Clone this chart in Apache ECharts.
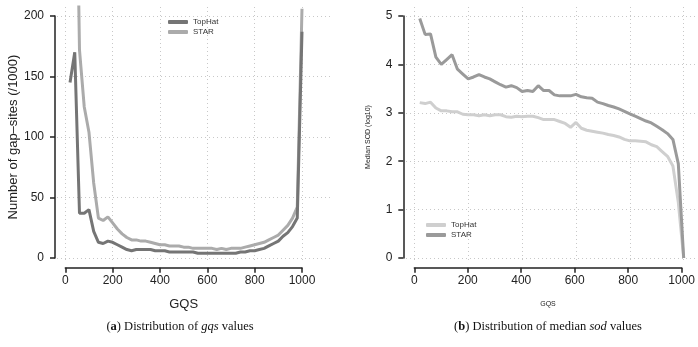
<!DOCTYPE html>
<html>
<head>
<meta charset="utf-8">
<script src="https://cdn.jsdelivr.net/npm/echarts@6/dist/echarts.min.js"></script>
<style>
  html, body { margin: 0; padding: 0; background: #fff; }
  #chart { width: 698px; height: 347px; }
</style>
</head>
<body>
<div id="chart"></div>
<script>
// gqs bins (x axis of both panels)
const gqsBins = [20, 40, 60, 80, 100, 120, 140, 160, 180, 200, 220, 240, 260, 280, 300, 320, 340, 360, 380, 400,
  420, 440, 460, 480, 500, 520, 540, 560, 580, 600, 620, 640, 660, 680, 700, 720, 740, 760, 780, 800,
  820, 840, 860, 880, 900, 920, 940, 960, 980, 1000];

// (a) number of gap-sites (/1000)
const gapTopHat = [145, 170, 37, 37, 40, 22, 13, 12, 14, 13, 11, 9, 7, 6, 7, 7, 7, 7, 6, 6,
  6, 5, 5, 5, 5, 5, 5, 4, 4, 4, 4, 4, 4, 4, 4, 4, 5, 5, 6, 6,
  7, 8, 10, 12, 14, 18, 21, 26, 33, 187];
const gapStar = [300, 420, 172, 125, 104, 62, 33, 31, 34, 29, 24, 20, 17, 15, 15, 14, 14, 13, 12, 11,
  11, 10, 10, 10, 9, 9, 8, 8, 8, 8, 8, 7, 8, 7, 8, 8, 8, 9, 10, 11,
  12, 13, 15, 17, 19, 23, 27, 33, 42, 206];

// (b) median sod (log10)
const sodTopHat = [3.21, 3.19, 3.22, 3.1, 3.04, 3.04, 3.02, 3.02, 2.97, 2.96, 2.96, 2.94, 2.96, 2.94, 2.96, 2.96, 2.92, 2.91, 2.93, 2.92,
  2.93, 2.93, 2.9, 2.86, 2.86, 2.86, 2.82, 2.78, 2.7, 2.8, 2.68, 2.64, 2.62, 2.6, 2.58, 2.55, 2.53, 2.5, 2.45, 2.42,
  2.42, 2.41, 2.4, 2.34, 2.3, 2.2, 2.1, 1.9, 1.15, 0];
const sodStar = [4.95, 4.62, 4.63, 4.15, 4.0, 4.1, 4.2, 3.9, 3.8, 3.7, 3.74, 3.79, 3.74, 3.7, 3.64, 3.58, 3.53, 3.56, 3.52, 3.44,
  3.46, 3.44, 3.56, 3.46, 3.46, 3.37, 3.35, 3.35, 3.35, 3.38, 3.33, 3.31, 3.3, 3.22, 3.19, 3.15, 3.12, 3.08, 3.03, 2.98,
  2.93, 2.88, 2.83, 2.79, 2.72, 2.65, 2.57, 2.45, 1.95, 0];

const gapTicks = [0, 50, 100, 150, 200];
const sodTicks = [0, 1, 2, 3, 4, 5];

const pairs = (ys) => gqsBins.map((x, i) => [x, ys[i]]);

const axisColor = "#222";
const font = "Liberation Sans";

// plotting area: grid lines + data, no axis lines
function plotX(idx, min, max) {
  return {
    gridIndex: idx, type: "value", min: min, max: max,
    axisLine: { show: false }, axisTick: { show: false }, axisLabel: { show: false },
    splitLine: { show: true, showMinLine: false, showMaxLine: false,
      lineStyle: { color: "#c8c8c8", width: 1, type: [1, 3] } },
  };
}
const plotY = plotX;

// detached R style axes
function hidden(idx) {
  return { gridIndex: idx, type: "value", show: false };
}
function tickAxis(idx, min, max, interval, name, nameSize, nameGap, labelMargin) {
  return {
    gridIndex: idx, type: "value", min: min, max: max, interval: interval,
    name: name, nameLocation: "middle", nameGap: nameGap,
    nameTextStyle: { fontFamily: font, fontSize: nameSize, color: axisColor },
    axisLine: { show: true, lineStyle: { color: axisColor, width: 1.5 } },
    axisTick: { show: true, inside: false, length: 5, lineStyle: { color: axisColor, width: 1.5 } },
    axisLabel: { show: true, margin: labelMargin, fontFamily: font, fontSize: 12, color: axisColor,
      formatter: (v) => String(v) },
    splitLine: { show: false },
  };
}

function line(name, ys, xi, yi, color) {
  return {
    name: name, type: "line", xAxisIndex: xi, yAxisIndex: yi,
    data: pairs(ys), showSymbol: false, symbol: "none", clip: true,
    lineStyle: { color: color, width: 3 }, itemStyle: { color: color },
    z: 3,
  };
}

const captionRich = {
  n: { fontFamily: "Liberation Serif", fontSize: 12.5, fill: "#111" },
  b: { fontFamily: "Liberation Serif", fontSize: 12.5, fontWeight: "bold", fill: "#111" },
  i: { fontFamily: "Liberation Serif", fontSize: 12.5, fontStyle: "italic", fill: "#111" },
};

const chart = echarts.init(document.getElementById("chart"));
const option = {
  backgroundColor: "#fff",
  animation: false,
  grid: [
    { left: 57, top: 7, width: 276, height: 256 },          // 0 plot a
    { left: 65.3, top: 260, width: 236.7, height: 7.7 },    // 1 x axis a
    { left: 55, top: 16, width: 10, height: 242 },          // 2 y axis a
    { left: 406, top: 7, width: 289, height: 255 },         // 3 plot b
    { left: 414.3, top: 260, width: 269.4, height: 7.7 },   // 4 x axis b
    { left: 403.3, top: 16, width: 10, height: 242 },       // 5 y axis b
  ],
  xAxis: [
    plotX(0, -35, 1131),
    tickAxis(1, 0, 1000, 200, "GQS", 13, 30, 7),
    hidden(2),
    plotX(3, -31, 1042),
    tickAxis(4, 0, 1000, 200, "GQS", 7, 33, 7),
    hidden(5),
  ],
  yAxis: [
    plotY(0, -4.1, 207.4),
    hidden(1),
    tickAxis(2, gapTicks[0], gapTicks[gapTicks.length - 1], 50, "Number of gap\u2013sites (/1000)", 13, 33, 11),
    plotY(3, -0.083, 5.186),
    hidden(4),
    tickAxis(5, sodTicks[0], sodTicks[sodTicks.length - 1], 1, "Median SOD (log10)", 7, 32, 11),
  ],
  legend: [
    {
      left: 163, top: 12, orient: "vertical", itemWidth: 20, itemHeight: 4, itemGap: 0,
      icon: "roundRect", data: ["TopHat", "STAR"],
      textStyle: { fontFamily: font, fontSize: 8, color: "#333", lineHeight: 10 },
    },
    {
      left: 421, top: 215, orient: "vertical", itemWidth: 20, itemHeight: 4, itemGap: 0,
      icon: "roundRect", data: ["TopHat ", "STAR "],
      formatter: (n) => n.trim(),
      textStyle: { fontFamily: font, fontSize: 8, color: "#333", lineHeight: 10 },
    },
  ],
  series: [
    line("STAR", gapStar, 0, 0, "#ababab"),
    line("TopHat", gapTopHat, 0, 0, "#757575"),
    line("TopHat ", sodTopHat, 3, 3, "#cfcfcf"),
    line("STAR ", sodStar, 3, 3, "#9a9a9a"),
  ],
  graphic: [
    {
      type: "text", x: 180, y: 320, style: {
        text: "{n|(}{b|a}{n|) Distribution of }{i|gqs}{n| values}",
        align: "center", rich: captionRich,
      },
    },
    {
      type: "text", x: 548, y: 320, style: {
        text: "{n|(}{b|b}{n|) Distribution of median }{i|sod}{n| values}",
        align: "center", rich: captionRich,
      },
    },
  ],
};
chart.setOption(option);
</script>
</body>
</html>
